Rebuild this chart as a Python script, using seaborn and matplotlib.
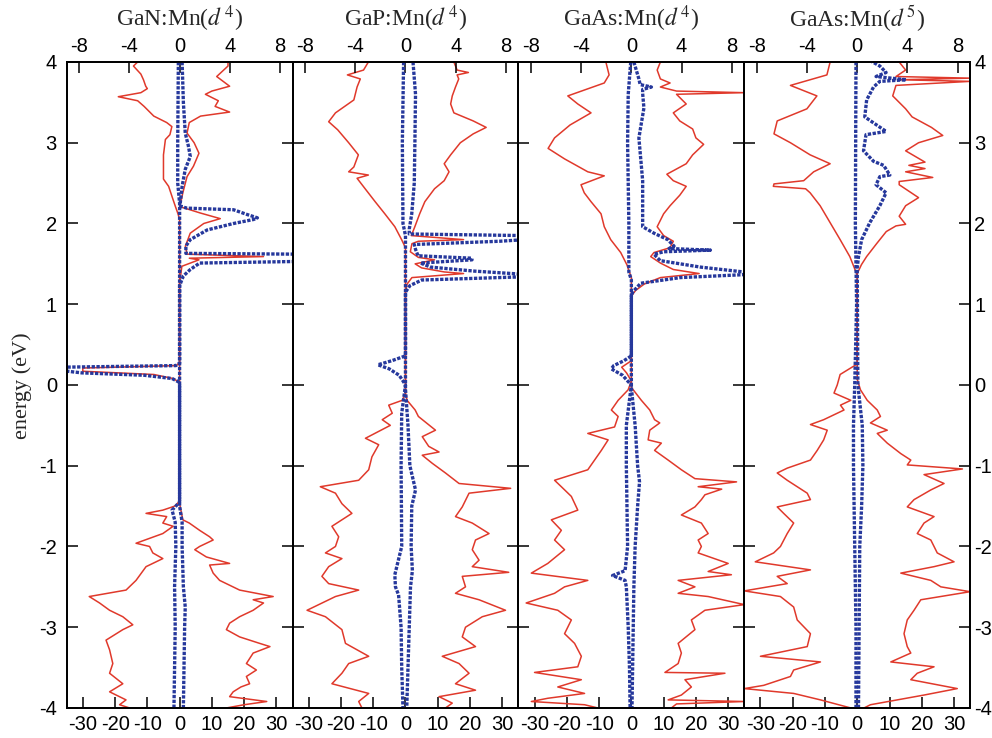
import numpy as np
import pandas as pd
import seaborn as sns
import matplotlib.pyplot as plt

# ---- data (energy in eV, DOS in states/eV) ----
titles = [r"GaN:Mn($d^{\,4}$)", r"GaP:Mn($d^{\,4}$)", r"GaAs:Mn($d^{\,4}$)", r"GaAs:Mn($d^{\,5}$)"]

# GaN:Mn(d4)
gan_up_e = [4.0, 3.95, 3.82, 3.7, 3.64, 3.6, 3.52, 3.45, 3.38, 3.33, 3.25, 3.12, 3.0, 2.87, 2.71, 2.58, 2.38, 2.25,
            2.21, 2.13, 2.06, 2.0, 1.88, 1.72, 1.62, 1.59, 1.57, 1.55, 1.47, 1.35, 1.27,
            -1.47, -1.67, -1.71, -1.8, -1.88, -1.92, -2.0, -2.04, -2.13, -2.21, -2.23, -2.33, -2.42, -2.54, -2.62,
            -2.66, -2.7, -2.79, -2.87, -2.95, -3.03, -3.12, -3.2, -3.24, -3.32, -3.45, -3.53, -3.61, -3.7, -3.74,
            -3.8, -3.86, -3.92, -3.96, -4.0]
gan_up = [15, 15, 11.5, 15.5, 10, 8, 12, 11, 15.5, 6.5, 3, 2.3, 4.5, 6, 4.3, 2.3, 1, 0.3,
          0, 6.4, 12.6, 7.5, 3.3, 1.8, 2.3, 26, 3, 6, 0.7, 0.3, 0,
          0, 1, 3, 6.2, 9.3, 10.4, 6.2, 4.7, 8.3, 15.5, 9.3, 10.4, 12.4, 18.6, 29,
          22.8, 26, 22.8, 18.6, 15.5, 14.5, 18.6, 24.8, 28, 22.8, 20.7, 23.8, 20.7, 21.7, 19,
          16.6, 15.5, 27, 20, 14.5]
gan_dn_e = [4.0, 3.95, 3.85, 3.78, 3.7, 3.67, 3.62, 3.57, 3.52, 3.45, 3.33, 3.25, 3.2, 3.1, 3.04, 2.85, 2.71, 2.55,
            2.46, 2.34, 2.21, 2.12, 2.05,
            0.28, 0.24, 0.21, 0.17, 0.13, 0.08, 0.03,
            -1.44, -1.5, -1.55, -1.59, -1.63, -1.71, -1.75, -1.84, -1.96, -2.0, -2.08, -2.15, -2.25, -2.42, -2.54,
            -2.62, -2.7, -2.79, -2.87, -2.97, -3.03, -3.16, -3.28, -3.45, -3.57, -3.7, -3.8, -3.9, -3.96, -4.0]
gan_dn = [-13, -14.3, -12, -11.2, -10.5, -10, -12, -19, -13, -11, -8, -4, -2.4, -3, -4.4, -5, -5, -5,
          -3.4, -2.4, -1.3, -0.5, 0,
          0, -1, -30, -30, -8, -2, 0,
          0, -1.5, -5.2, -10.4, -4, -5.2, -2, -5.2, -13.5, -9.3, -8.3, -5.2, -10.4, -13.5, -16.6,
          -28, -24.8, -21.7, -17.6, -14.5, -17.6, -22.8, -21.7, -20.7, -21.7, -17.6, -21.7, -16.6, -18.6, -15.5]
gan_mn_up_e = [4.0, 3.5, 3.12, 2.96, 2.83, 2.67, 2.46, 2.25, 2.21, 2.19, 2.17, 2.11, 2.07, 2.05, 2.0, 1.92, 1.8,
               1.72, 1.63, 1.62, 1.6, 1.55, 1.53, 1.51, 1.43, 1.35, 1.23,
               -1.5, -1.7, -2.0, -2.5, -2.75, -3.0, -3.5, -4.0]
gan_mn_up = [0.2, 0.3, 0.45, 0.7, 0.85, 0.45, 0.2, 0.05, 0.1, 0.6, 4.3, 5.4, 6.2, 5.9, 4.3, 2.2, 0.85,
             0.5, 0.5, 9.5, 9.5, 9.5, 9.5, 1.6, 0.85, 0.3, 0,
             0, 0.2, 0.2, 0.3, 0.45, 0.4, 0.35, 0.3]
gan_mn_dn_e = [4.0, 3.0, 2.5, 2.25, 0.27, 0.24, 0.22, 0.18, 0.15, 0.12, 0.08, 0.04, 0.0,
               -1.45, -1.55, -1.7, -2.0, -2.5, -3.0, -3.5, -4.0]
gan_mn_dn = [-0.1, -0.15, -0.15, 0, 0, -0.3, -9.5, -9.5, -7.8, -2.8, -0.6, -0.1, 0,
             0, -0.6, -0.35, -0.3, -0.4, -0.35, -0.4, -0.45]

# GaP:Mn(d4)
gap_up_e = [4.0, 3.9, 3.87, 3.84, 3.79, 3.69, 3.58, 3.48, 3.37, 3.27, 3.19, 3.11, 3.0, 2.85, 2.74, 2.64, 2.53, 2.43,
            2.27, 2.12, 1.96, 1.85, 1.8, 1.78, 1.75, 1.65, 1.58, 1.55, 1.5, 1.45, 1.4, 1.38, 1.33, 1.25, 1.15,
            -0.1, -0.19, -0.31, -0.39, -0.56, -0.64, -0.76, -0.83, -0.87, -0.97, -1.09, -1.22, -1.28, -1.34, -1.51,
            -1.63, -1.71, -1.84, -1.92, -2.04, -2.17, -2.25, -2.32, -2.37, -2.5, -2.58, -2.66, -2.79, -2.87, -3.0,
            -3.12, -3.24, -3.36, -3.45, -3.57, -3.7, -3.78, -3.86, -3.94, -4.0]
gap_up = [15, 16, 19.5, 16, 16.5, 15.5, 14.5, 14, 15, 21, 25, 21, 17, 14, 12, 13.5, 12, 9,
          6, 4.4, 2.9, 1.8, 18, 4, 2, 1.5, 4, 9, 3, 5, 12, 18, 2, 0.5, 0,
          0, 0.5, 3, 4, 9.3, 5.2, 7.2, 10.4, 5.2, 8.3, 12.4, 16.6, 32.6, 19.7, 17.6,
          15.5, 20.7, 25.9, 21.7, 20.7, 22.8, 20.7, 32, 17.6, 18.6, 15.5, 22.8, 31, 23.8, 18.6,
          17.6, 21.7, 11.4, 16.6, 19.7, 15.5, 21.7, 10.4, 14.5, 12.4]
gap_dn_e = [4.0, 3.9, 3.84, 3.79, 3.69, 3.53, 3.37, 3.26, 3.16, 3.0, 2.85, 2.7, 2.64, 2.6, 2.56, 2.43, 2.27, 2.12,
            1.96, 1.8, 1.7,
            -0.1, -0.19, -0.25, -0.35, -0.43, -0.5, -0.66, -0.74, -0.89, -1.05, -1.18, -1.26, -1.34, -1.47, -1.59,
            -1.75, -1.88, -2.0, -2.08, -2.15, -2.25, -2.37, -2.46, -2.54, -2.62, -2.79, -2.87, -3.03, -3.2,
            -3.36, -3.45, -3.57, -3.7, -3.82, -3.92, -4.0]
gap_dn = [-11.5, -13, -18, -14, -15, -16, -21.7, -23.8, -21, -17.6, -14.6, -16, -17.6, -11.5, -15, -12.5, -9.4, -6.4,
          -3.3, -1.2, 0,
          0, -1, -5.2, -4.1, -7.2, -4.7, -12.4, -8.3, -10.4, -11.4, -14.5, -26.4, -21.7, -19.7, -16.6,
          -22.8, -20.7, -21.7, -24.8, -19.7, -23.8, -25.9, -23.8, -14.5, -21.7, -30.5, -24.8, -19.7, -18.6,
          -11.4, -17.6, -19.7, -22.8, -11.4, -14.5, -13.5]
gap_mn_up_e = [4.0, 3.6, 3.0, 2.5, 2.12, 1.93, 1.87, 1.85, 1.8, 1.78, 1.74, 1.68, 1.6, 1.57, 1.55, 1.51, 1.46,
               1.41, 1.37, 1.34, 1.3, 1.23, 1.15,
               -0.05, -0.5, -1.0, -1.3, -1.5, -2.0, -2.3, -2.5, -3.0, -3.5, -4.0]
gap_mn_up = [0.6, 0.8, 0.75, 0.7, 0.5, 0.3, 0.3, 9.5, 9.5, 7.5, 0.7, 0.8, 1.0, 5.3, 5.3, 1.2, 2.0,
             5.5, 9.5, 9.5, 1.3, 0.35, 0,
             0, 0.2, 0.35, 0.8, 0.5, 0.45, 0.55, 0.4, 0.3, 0.2, 0.1]
gap_mn_dn_e = [4.0, 3.0, 2.0, 1.85, 0.36, 0.3, 0.25, 0.2, 0.12, 0.05, 0.0,
               -0.35, -1.0, -2.0, -2.35, -2.5, -2.6, -3.0, -3.5, -4.0]
gap_mn_dn = [-0.15, -0.25, -0.2, 0, 0, -1.1, -2.2, -1.3, -0.5, -0.2, 0,
             -0.3, -0.35, -0.3, -0.85, -0.8, -0.55, -0.35, -0.3, -0.2]

# GaAs:Mn(d4)
gaas4_up_e = [4.0, 3.9, 3.79, 3.74, 3.69, 3.64, 3.62, 3.6, 3.48, 3.37, 3.27, 3.17, 3.06, 2.98, 2.85, 2.74, 2.61,
              2.53, 2.46, 2.35, 2.22, 2.12, 1.96, 1.85, 1.78, 1.7, 1.64, 1.59, 1.51, 1.43, 1.38, 1.33, 1.25, 1.17, 1.1,
              -0.03, -0.19, -0.31, -0.43, -0.47, -0.56, -0.68, -0.72, -0.81, -0.93, -1.05, -1.16, -1.2, -1.26,
              -1.29, -1.36, -1.42, -1.51, -1.61, -1.71, -1.84, -1.92, -2.0, -2.08, -2.21, -2.31, -2.35, -2.42,
              -2.5, -2.58, -2.62, -2.72, -2.79, -2.91, -3.03, -3.2, -3.32, -3.45, -3.56, -3.57, -3.65, -3.74,
              -3.84, -3.9, -3.92, -3.95, -4.0]
gaas4_up = [9, 8, 9, 12, 9, 14, 35, 14, 17, 13, 15, 19, 20, 22.4, 19, 17, 11,
            13, 17, 15, 12, 10, 8, 10, 13, 12, 7, 6, 9, 13, 21, 9, 4, 1.3, 0,
            0, 3.1, 5.7, 7.2, 8.8, 5.7, 5.2, 9.3, 7.2, 11.4, 15.5, 19.7, 32.6, 20.7,
            28, 22.8, 21.7, 19.7, 15.5, 21.7, 23.8, 20.7, 21.7, 20.7, 30, 23.8, 31, 14.5,
            19.7, 14.5, 23.8, 35, 22.8, 18.6, 19.7, 14.5, 15.5, 14.5, 10.4, 29, 16.6, 18.6,
            15.5, 11.4, 35, 14, 12.4]
gaas4_dn_e = [4.0, 3.84, 3.74, 3.58, 3.48, 3.37, 3.22, 3.06, 2.93, 2.8, 2.64, 2.59, 2.48, 2.38, 2.27, 2.12, 1.96,
              1.8, 1.64, 1.49, 1.33,
              0.3, 0.22, 0.15, 0.05,
              -0.06, -0.19, -0.31, -0.39, -0.52, -0.6, -0.68, -0.81, -0.93, -1.05, -1.18, -1.26, -1.38, -1.55,
              -1.67, -1.8, -1.92, -2.04, -2.21, -2.33, -2.42, -2.5, -2.58, -2.7, -2.79, -2.91, -3.08, -3.2,
              -3.36, -3.49, -3.56, -3.65, -3.74, -3.82, -3.88, -3.92, -3.96, -4.0]
gaas4_dn = [-7.9, -6.9, -8.4, -19.7, -16.6, -12.5, -19, -23.8, -25.8, -20.7, -13.5, -8.4, -15.6, -14.6, -12.5, -9.4,
            -8.4, -6.4, -3.3, -1.4, 0,
            0, -3, -1.5, 0,
            -1.0, -4.1, -6.2, -4.1, -5.2, -13.5, -7.2, -9.3, -11.4, -13.5, -23.8, -21.7, -18.6, -16.6,
            -24.8, -21.7, -23.8, -20.7, -25.9, -31, -13.5, -20.7, -23.8, -32.6, -22.8, -18.6, -20.7, -17.6,
            -15.5, -16.6, -30, -15.5, -22.8, -14.5, -25.9, -31, -14.5, -10.4]
gaas4_mn_up_e = [4.0, 3.79, 3.72, 3.69, 3.66, 3.61, 3.43, 3.06, 2.53, 2.12, 1.96, 1.88, 1.8, 1.72, 1.69, 1.67, 1.65,
                 1.62, 1.54, 1.46, 1.39, 1.37, 1.33, 1.26, 1.15, 1.1,
                 -0.03, -0.5, -1.0, -1.2, -1.5, -2.0, -2.5, -3.0, -3.5, -4.0]
gaas4_mn_up = [0.2, 0.6, 0.7, 1.6, 0.9, 0.9, 1.0, 0.6, 0.9, 0.9, 0.9, 1.8, 2.9, 3.4, 3.0, 6.3, 2.6,
               1.8, 2.3, 5.5, 9.5, 9.5, 3.9, 0.75, 0.1, 0,
               0, 0.3, 0.5, 0.65, 0.5, 0.3, 0.2, 0.15, 0.1, 0.05]
gaas4_mn_dn_e = [4.0, 3.6, 3.0, 2.0, 1.4, 1.3, 0.36, 0.3, 0.24, 0.2, 0.12, 0.05, 0.0,
                 -0.5, -1.0, -1.5, -2.0, -2.3, -2.36, -2.42, -2.5, -3.0, -3.5, -4.0]
gaas4_mn_dn = [-0.05, -0.25, -0.3, -0.2, -0.2, 0, 0, -0.6, -1.4, -1.6, -0.7, -0.3, 0,
               -0.4, -0.4, -0.35, -0.3, -0.5, -1.5, -0.5, -0.4, -0.25, -0.15, -0.1]

# GaAs:Mn(d5)
gaas5_up_e = [4.0, 3.9, 3.82, 3.8, 3.78, 3.76, 3.71, 3.58, 3.42, 3.32, 3.19, 3.09, 3.0, 2.9, 2.76, 2.72, 2.68, 2.64,
              2.57, 2.52, 2.48, 2.32, 2.22, 2.09, 1.99, 1.97, 1.9, 1.75, 1.59, 1.49, 1.38,
              0.07, -0.06, -0.19, -0.31, -0.39, -0.47, -0.56, -0.6, -0.72, -0.85, -0.93, -0.99, -1.04, -1.11,
              -1.22, -1.3, -1.42, -1.51, -1.63, -1.71, -1.84, -1.92, -2.08, -2.19, -2.25, -2.33, -2.42, -2.5,
              -2.56, -2.66, -2.79, -2.91, -3.08, -3.24, -3.32, -3.43, -3.49, -3.57, -3.65, -3.76, -3.84, -3.9,
              -3.96, -4.0]
gaas5_up = [13, 15, 12, 35, 13, 35, 12, 11, 15, 17, 23, 26.5, 19, 15, 21, 16, 21, 15,
            23.4, 13, 13, 19, 15, 13, 15, 12, 9, 6, 2.9, 1.3, 0,
            0, 1, 3.1, 6.2, 7.2, 4.1, 9.3, 6.2, 9.3, 13.5, 16.6, 15.5, 32.6, 20.7,
            26.9, 22.8, 17.6, 15.5, 23.8, 20.7, 18.6, 22.8, 24.8, 30, 23.8, 13.5, 22.8, 25.9,
            35, 19.7, 17.6, 15.5, 14.5, 15.5, 16.6, 10.4, 23.8, 18.6, 16.6, 31, 20.7, 12.4,
            4.1, 2.1]
gaas5_dn_e = [4.0, 3.84, 3.71, 3.58, 3.42, 3.27, 3.11, 3.0, 2.85, 2.74, 2.64, 2.53, 2.49, 2.46, 2.43, 2.38, 2.22,
              2.01, 1.8, 1.59, 1.43, 1.36,
              0.26, 0.13, 0.0, -0.1, -0.19, -0.25, -0.31, -0.43, -0.49, -0.56, -0.68, -0.81, -0.93, -1.03, -1.09,
              -1.18, -1.34, -1.42, -1.51, -1.59, -1.71, -1.84, -2.0, -2.08, -2.19, -2.29, -2.37, -2.46, -2.55,
              -2.62, -2.75, -2.91, -3.08, -3.24, -3.36, -3.43, -3.53, -3.61, -3.72, -3.76, -3.82, -3.9, -4.0]
gaas5_dn = [-8.4, -9.4, -20.7, -12.5, -15.6, -24.8, -25.8, -20.7, -14.6, -8.4, -13.5, -16.6, -25.8, -26, -16, -14.6,
            -11.5, -8.4, -5.3, -2.3, -0.7, 0,
            0, -5.3, -6.2, -7.2, -2, -5.2, -4.1, -10.4, -14.5, -9.3, -10.4, -12.4, -14.5, -21.7, -24.8,
            -21.7, -15.5, -14.5, -24.8, -22.8, -19.7, -21.7, -23.8, -25.9, -31.6, -14.5, -24.8, -21.7, -35,
            -23.8, -19.7, -18.6, -14.5, -15.5, -30, -11.4, -19.7, -20.7, -29, -35, -19.7, -11.4, -2]
gaas5_mn_up_e = [4.02, 3.95, 3.87, 3.82, 3.78, 3.76, 3.69, 3.53, 3.32, 3.14, 3.1, 2.9, 2.77, 2.72, 2.6, 2.58, 2.48,
                 2.38, 2.22, 2.01, 1.8, 1.59, 1.45, 0.0, -0.5, -1.0, -1.5, -2.0, -3.0, -4.0]
gaas5_mn_up = [1.0, 1.8, 2.3, 1.5, 3.9, 1.8, 1.3, 0.75, 0.6, 2.3, 0.7, 0.5, 1.3, 2.1, 2.6, 1.8, 1.5,
               2.3, 1.8, 1.0, 0.35, 0.1, 0, 0.05, 0.4, 0.45, 0.35, 0.2, 0.15, 0.1]
gaas5_mn_dn_e = [4.0, 2.0, 1.0, 0.0, -0.5, -1.0, -1.5, -2.0, -3.0, -4.0]
gaas5_mn_dn = [-0.1, -0.15, -0.05, -0.2, -0.3, -0.3, -0.25, -0.2, -0.1, -0.1]

panels = [
    dict(tot=[(gan_up_e, gan_up), (gan_dn_e, gan_dn)], mn=[(gan_mn_up_e, gan_mn_up), (gan_mn_dn_e, gan_mn_dn)]),
    dict(tot=[(gap_up_e, gap_up), (gap_dn_e, gap_dn)], mn=[(gap_mn_up_e, gap_mn_up), (gap_mn_dn_e, gap_mn_dn)]),
    dict(tot=[(gaas4_up_e, gaas4_up), (gaas4_dn_e, gaas4_dn)],
         mn=[(gaas4_mn_up_e, gaas4_mn_up), (gaas4_mn_dn_e, gaas4_mn_dn)]),
    dict(tot=[(gaas5_up_e, gaas5_up), (gaas5_dn_e, gaas5_dn)],
         mn=[(gaas5_mn_up_e, gaas5_mn_up), (gaas5_mn_dn_e, gaas5_mn_dn)]),
]

sns.set_theme(style="ticks")
plt.rcParams['font.family'] = ['Liberation Sans', 'DejaVu Sans']
plt.rcParams['mathtext.fontset'] = 'stix'
plt.rcParams['axes.unicode_minus'] = False
plt.rcParams['axes.edgecolor'] = 'black'
plt.rcParams['xtick.color'] = 'black'
plt.rcParams['ytick.color'] = 'black'

red = '#e0392b'
blue = '#26389c'
serif = ['Liberation Serif', 'DejaVu Serif']

fig, axes = plt.subplots(1, 4, figsize=(9.92, 7.38), dpi=100, sharey=True)
fig.subplots_adjust(left=0.0672, right=0.978, top=0.916, bottom=0.0407, wspace=0)

for i, (ax, p) in enumerate(zip(axes, panels)):
    # total DOS, bottom scale
    for e, v in p["tot"]:
        sns.lineplot(x=v, y=e, sort=False, estimator=None, color=red, lw=1.1, ax=ax)

    # Mn d DOS, top scale
    ax2 = ax.twiny()
    for e, v in p["mn"]:
        sns.lineplot(x=v, y=e, sort=False, estimator=None, color=blue, lw=2.4,
                     linestyle=(0, (1.0, 0.45)), ax=ax2)

    ax.set_xlim(-35, 35)
    ax.set_ylim(-4, 4)
    ax.set_xticks(range(-30, 31, 10))
    ax.set_yticks(range(-4, 5))
    ax2.set_xlim(-9, 9)
    ax2.set_xticks([-8, -4, 0, 4, 8])

    ax.tick_params(axis='x', direction='in', length=8, width=1.1, labelsize=14.5, pad=5)
    ax.tick_params(axis='y', direction='in', length=8, width=1.1, labelsize=14.5,
                   pad=(7 if i == 0 else 3),
                   left=True, right=True, labelleft=(i == 0), labelright=(i == 3))
    ax2.tick_params(axis='x', direction='in', length=8, width=1.1, labelsize=14.5, pad=4)
    for a in (ax, ax2):
        for s in a.spines.values():
            s.set_linewidth(1.3)
            s.set_color('black')
        a.set_xlabel("")
        a.set_ylabel("")

    ax.text(0.5, 1.067, titles[i], transform=ax.transAxes, ha='center', va='center',
            fontsize=17, family=serif)

fig.text(0.022, 0.477, "energy (eV)", rotation=90, ha='center', va='center', fontsize=16, family=serif)

fig.savefig("out.png", dpi=100)
